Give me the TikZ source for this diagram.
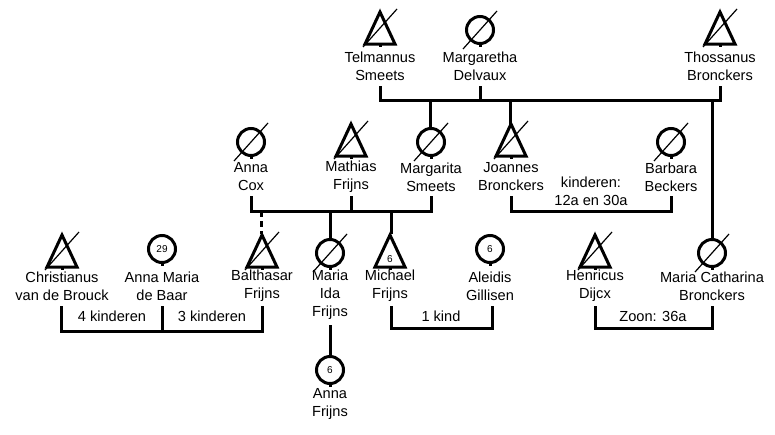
\documentclass[tikz,border=0pt]{standalone}
\usepackage{fontspec}
\setmainfont{Liberation Sans}
\usetikzlibrary{positioning}

\tikzset{
  person/.style={align=center, font=\fontsize{14.6}{18}\selectfont, inner sep=0pt},
  tag/.style={font=\fontsize{14.6}{18}\selectfont, inner sep=0pt, fill=white, inner xsep=2pt},
  num/.style={font=\fontsize{10}{10}\selectfont, inner sep=0pt},
  link/.style={line width=3pt},
  male/.pic={
    \draw[line width=3pt] (-15,16) -- (0,-16) -- (15,16) -- cycle;
    \draw[line width=3pt] (0,16) -- (0,19);},
  female/.pic={
    \draw[line width=3pt] (0,0) circle (13.5);
    \draw[line width=3pt] (0,13) -- (0,17);},
  dead/.pic={\draw[line width=1.2pt] (-17,19) -- (17,-19);}
}

\begin{document}
\begin{tikzpicture}[x=1pt,y=-1pt]
		\useasboundingbox (0,0) rectangle (775,434);

		% Generation 1
		\pic at (380,28) {male}; \pic at (380,28) {dead};
		\pic at (480,30) {female}; \pic at (480,30) {dead};
		\pic at (720,28) {male}; \pic at (720,28) {dead};
		\node[person] (telmannus) at (380,66) {Telmannus\\Smeets};
		\node[person] (margaretha) at (480,66) {Margaretha\\Delvaux};
		\node[person] (thossanus) at (720,66) {Thossanus\\Bronckers};

		% Generation 2
		\pic at (251,142) {female}; \pic at (251,142) {dead};
		\pic at (351,140) {male}; \pic at (351,140) {dead};
		\pic at (431,142) {female}; \pic at (431,142) {dead};
		\pic at (511,140) {male}; \pic at (511,140) {dead};
		\pic at (671,142) {female}; \pic at (671,142) {dead};
		\node[person] (cox) at (251,177) {Anna\\Cox};
		\node[person] (mathias) at (351,177) {Mathias\\Frijns};
		\node[person] (margarita) at (431,177) {Margarita\\Smeets};
		\node[person] (joannes) at (511,177) {Joannes\\Bronckers};
		\node[person] (barbara) at (671,177) {Barbara\\Beckers};

		% Generation 3
		\pic at (62,251) {male}; \pic at (62,251) {dead};
		\pic at (162,249) {female}; \node[num] (n29) at (162,249) {29};
		\pic at (262,251) {male}; \pic at (262,251) {dead};
		\pic at (330,253) {female}; \pic at (330,253) {dead};
		\pic at (390,251) {male}; \node[num] (n6a) at (390,259) {6};
		\pic at (490,249) {female}; \node[num] (n6b) at (490,249) {6};
		\pic at (595,251) {male}; \pic at (595,251) {dead};
		\pic at (712,253) {female}; \pic at (712,253) {dead};
		\node[person] (christianus) at (62,286) {Christianus\\van de Brouck};
		\node[person] (annamaria) at (162,286) {Anna Maria\\de Baar};
		\node[person] (balthasar) at (262,286) {Balthasar\\Frijns};
		\node[person] (mariaida) at (330,295) {Maria\\Ida\\Frijns};
		\node[person] (michael) at (390,286) {Michael\\Frijns};
		\node[person] (aleidis) at (490,286) {Aleidis\\Gillisen};
		\node[person] (henricus) at (595,286) {Henricus\\Dijcx};
		\node[person] (mariacath) at (712,286) {Maria Catharina\\Bronckers};

		% Generation 4
		\pic at (330,370) {female}; \node[num] (n6c) at (330,370) {6};
		\node[person] (annafrijns) at (330,404) {Anna\\Frijns};

		% Connect the nodes
		\draw[link] (380,86) |- (720,100) -- (720,86);
		\draw[link] (480,86) -- (480,100);
		\draw[link] (430,100) -- (430,128);
		\draw[link] (510,100) -- (510,124);
		\draw[link] (712,100) -- (712,239);

		\draw[link] (251,196) |- (431,211) -- (431,196);
		\draw[link] (351,196) -- (351,211);
		\draw[link,dash pattern=on 6pt off 4pt] (261,211) -- (261,234);
		\draw[link] (330,211) -- (330,240);
		\draw[link] (391,211) -- (391,234);
		\draw[link] (511,196) |- (671,211) -- (671,196);
		\node[person, fill=white] (kids) at (591,191) {kinderen:\\12a en 30a};

		\draw[link] (61,306) |- (262,331) -- (262,306);
		\draw[link] (162,306) -- (162,331);
		\node[tag] (kids4) at (112,316) {4 kinderen};
		\node[tag] (kids3) at (212,316) {3 kinderen};
		\draw[link] (391,306) |- (492,328) -- (492,306);
		\node[tag] (kids1) at (441,316) {1 kind};
		\draw[link] (595,306) |- (712,328) -- (712,306);
		\node[tag] (zoon) at (653,316) {Zoon: 36a};
		\draw[link] (330,325) -- (330,357);
	\end{tikzpicture}
\end{document}
